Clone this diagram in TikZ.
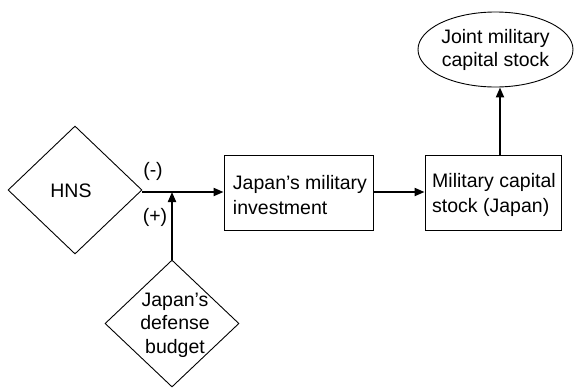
\documentclass[tikz,border=0pt]{standalone}
\usepackage{fontspec}
\setmainfont{Liberation Sans}
\usetikzlibrary{shapes.geometric,arrows.meta,calc}
\begin{document}
\begin{tikzpicture}[x=1pt,y=-1pt,
  txt/.style={font=\fontsize{19.5}{24}\selectfont, align=center, inner sep=0pt},
  shp/.style={draw=black, line width=0.9pt, inner sep=0pt},
  dia/.style={shp, diamond},
  boxn/.style={shp, rectangle},
  arr/.style={line width=2pt, -{Triangle[length=10pt,width=8pt]}}]
\useasboundingbox (0,0) rectangle (574,389);
% HNS diamond
\node[dia, minimum width=134pt, minimum height=128pt] (hns) at (75,190) {};
\node[txt] (hnst) at (71,191) {HNS};
% budget diamond
\node[dia, minimum width=134pt, minimum height=127pt] (bud) at (172,323.5) {};
\node[txt, font=\fontsize{19.5}{23.5}\selectfont] (budt) at (175,325) {Japan’s\\defense\\budget};
% boxes
\node[boxn, minimum width=149pt, minimum height=75pt] (b1) at (298.5,192.5) {};
\node[txt, align=left, font=\fontsize{19.5}{25}\selectfont] (b1t) at (300,195) {Japan’s military\\investment};
\node[boxn, minimum width=136pt, minimum height=75pt] (b2) at (493,192.5) {};
\node[txt, align=left, font=\fontsize{19.5}{25}\selectfont] (b2t) at (494,195) {Military capital\\stock (Japan)};
% ellipse
\node[shp, ellipse, minimum width=155pt, minimum height=75pt] (e) at (495.5,49.5) {};
\node[txt, font=\fontsize{19.5}{23}\selectfont] (et) at (e.center) {Joint military\\capital stock};
% labels
\node[txt] (minus) at (153,171) {(-)};
\node[txt] (plus) at (155,217) {(+)};
% connectors
\coordinate (j) at (bud.north |- 0,192);
\coordinate (h) at (hns.east |- 0,192);
\draw[arr] (h) -- (b1.west |- h);
\draw[arr] (bud.north) -- (j);
\draw[arr] (b1.east |- h) -- (b2.west |- h);
\coordinate (t) at (500,155);
\draw[arr] (t) -- (t |- e.south);
\end{tikzpicture}
\end{document}
